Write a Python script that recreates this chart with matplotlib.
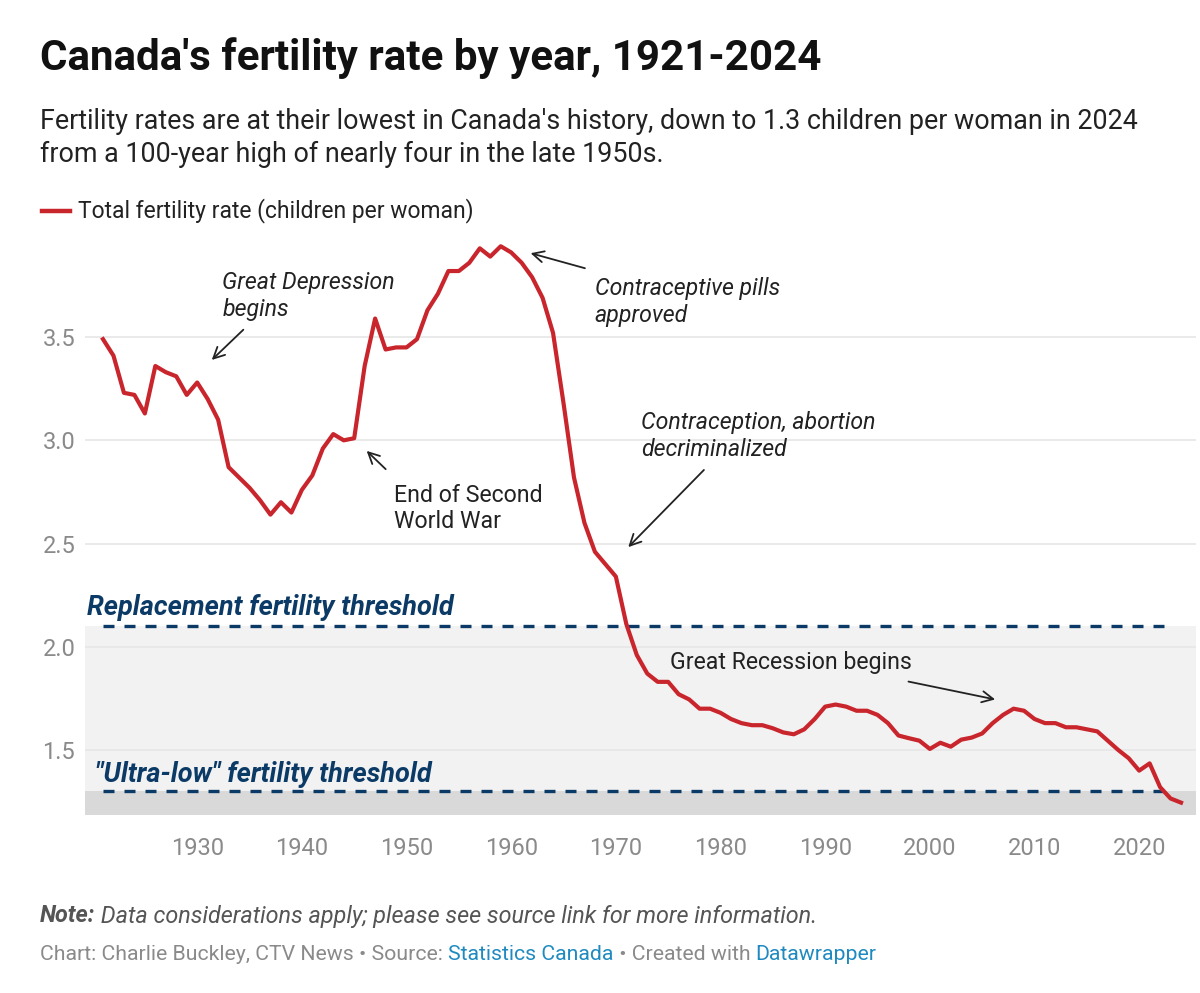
import matplotlib
matplotlib.use('Agg')
import matplotlib.pyplot as plt

plt.rcParams['font.family'] = ['Roboto', 'DejaVu Sans']

# Total fertility rate, Canada
years = list(range(1921, 2025))
tfr = [3.49, 3.41, 3.23, 3.22, 3.13, 3.36, 3.33, 3.31, 3.22, 3.28,
       3.20, 3.10, 2.87, 2.82, 2.77, 2.71, 2.64, 2.70, 2.65, 2.76,
       2.83, 2.96, 3.03, 3.00, 3.01, 3.36, 3.59, 3.44, 3.45, 3.45,
       3.49, 3.63, 3.71, 3.82, 3.82, 3.86, 3.93, 3.89, 3.94, 3.91,
       3.86, 3.79, 3.69, 3.52, 3.18, 2.82, 2.60, 2.46, 2.40, 2.34,
       2.11, 1.96, 1.87, 1.83, 1.83, 1.77, 1.745, 1.70, 1.70, 1.68,
       1.65, 1.63, 1.62, 1.62, 1.605, 1.585, 1.576, 1.60, 1.65, 1.71,
       1.72, 1.71, 1.69, 1.69, 1.67, 1.63, 1.57, 1.557, 1.545, 1.505,
       1.535, 1.516, 1.55, 1.56, 1.58, 1.63, 1.67, 1.70, 1.69, 1.65,
       1.63, 1.63, 1.61, 1.61, 1.60, 1.59, 1.545, 1.50, 1.46, 1.40,
       1.435, 1.32, 1.265, 1.245]

replacement = 2.1
ultra_low = 1.3
yticks = [1.5, 2.0, 2.5, 3.0, 3.5]
xticks = list(range(1930, 2030, 10))

red = '#c9252c'
navy = '#0b3a66'
grey_txt = '#8a8a8a'
dark = '#222222'

fig = plt.figure(figsize=(12, 9.93), dpi=100)
ax = fig.add_axes([85/1200, 1 - 815/993, 1111/1200, (815 - 238)/993])

ax.set_xlim(1919.28, 2025.43)
ax.set_ylim(1.185, 3.98)

# shaded bands
ax.axhspan(ultra_low, replacement, color='#f2f2f2', zorder=0, lw=0)
ax.axhspan(1.185, ultra_low, color='#d9d9d9', zorder=0, lw=0)

for v in yticks:
    ax.axhline(v, color='#e6e6e6', lw=1.2, zorder=1)

for v in (replacement, ultra_low):
    ax.plot([1921, 2023], [v, v], color=navy, lw=2.4, ls=(0, (3.3, 3.0)), zorder=2)

ax.plot(years, tfr, color=red, lw=3, zorder=4, solid_joinstyle='round')

ax.set_yticks(yticks)
ax.set_yticklabels([f'{v:.1f}' for v in yticks])
ax.set_xticks(xticks)
ax.tick_params(axis='both', length=0, labelsize=17, labelcolor=grey_txt)
ax.tick_params(axis='y', pad=7)
ax.tick_params(axis='x', pad=16)
for s in ax.spines.values():
    s.set_visible(False)

ax.text(1919.5, 2.155, 'Replacement fertility threshold', color=navy,
        fontsize=19.5, fontweight='bold', style='italic', va='baseline')
ax.text(1920.2, 1.345, '"Ultra-low" fertility threshold', color=navy,
        fontsize=19.5, fontweight='bold', style='italic', va='baseline')

arrow = dict(arrowstyle='->,head_length=0.8,head_width=0.4', color=dark, lw=1.3)
ann = dict(fontsize=16.7, color=dark, va='top', ha='left', linespacing=1.2)

ax.text(1932.4, 3.82, 'Great Depression\nbegins', style='italic', **ann)
ax.annotate('', xy=(1931.2, 3.38), xytext=(1934.6, 3.545), arrowprops=arrow)

ax.text(1968.0, 3.79, 'Contraceptive pills\napproved', style='italic', **ann)
ax.annotate('', xy=(1961.6, 3.91), xytext=(1967.3, 3.83), arrowprops=arrow)

ax.text(1972.4, 3.14, 'Contraception, abortion\ndecriminalized', style='italic', **ann)
ax.annotate('', xy=(1971.0, 2.473), xytext=(1978.6, 2.866), arrowprops=arrow)

ax.text(1948.8, 2.79, 'End of Second\nWorld War', **ann)
ax.annotate('', xy=(1946.0, 2.958), xytext=(1948.2, 2.851), arrowprops=arrow)

ax.text(1975.2, 1.925, 'Great Recession begins', fontsize=16.7, color=dark,
        va='center', ha='left')
ax.annotate('', xy=(2006.5, 1.742), xytext=(1997.7, 1.834), arrowprops=arrow)

# header
fig.text(40/1200, 1 - 58/993, "Canada's fertility rate by year, 1921-2024",
         fontsize=30.3, fontweight='bold', color='#111111', va='center')
fig.text(40/1200, 1 - 138/993,
         "Fertility rates are at their lowest in Canada's history, down to 1.3 children per woman in 2024\n"
         "from a 100-year high of nearly four in the late 1950s.",
         fontsize=19.4, color=dark, va='center', linespacing=1.27)

# legend
fig.lines.append(plt.Line2D([42/1200, 70/1200], [1 - 211/993] * 2, color=red, lw=3.2,
                            transform=fig.transFigure))
fig.text(78/1200, 1 - 211/993, 'Total fertility rate (children per woman)',
         fontsize=16.5, color=dark, va='center')


def chain(y, parts, size):
    fig.canvas.draw()
    r = fig.canvas.get_renderer()
    x = 40/1200
    for txt, col, kw in parts:
        tt = fig.text(x, y, txt, fontsize=size, color=col, va='center', **kw)
        bb = tt.get_window_extent(renderer=r)
        x += bb.width / fig.bbox.width


# footer
chain(1 - 916/993, [('Note:', '#555555', dict(fontweight='bold', style='italic')),
                    (' Data considerations apply; please see source link for more information.',
                     '#555555', dict(style='italic'))], 16.8)
chain(1 - 954/993, [('Chart: Charlie Buckley, CTV News • Source: ', grey_txt, {}),
                    ('Statistics Canada', '#1f8ac0', {}),
                    (' • Created with ', grey_txt, {}),
                    ('Datawrapper', '#1f8ac0', {})], 15.3)

fig.savefig('out.png', dpi=100)
